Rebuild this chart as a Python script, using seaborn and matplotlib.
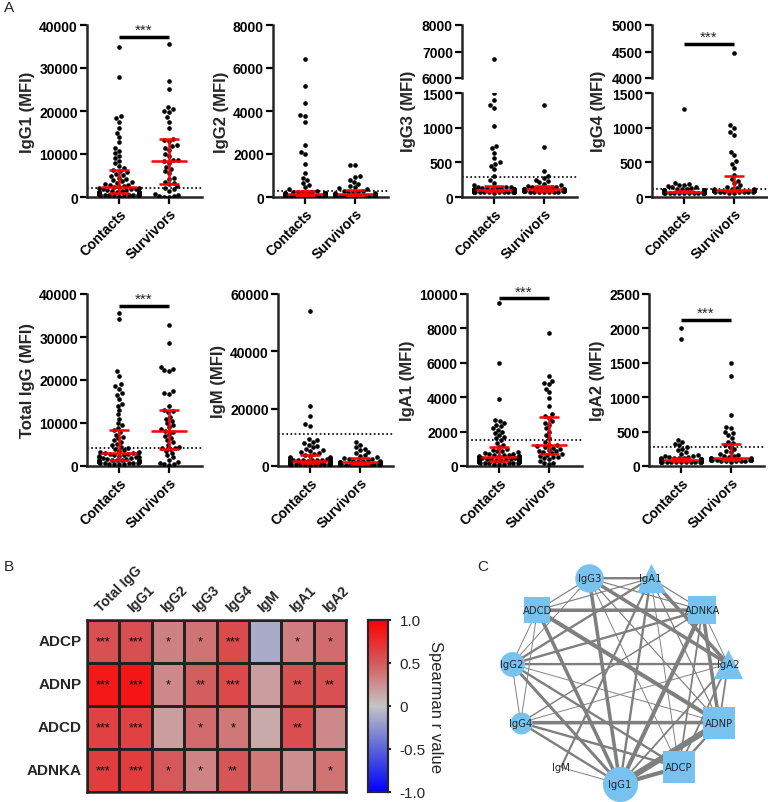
import warnings

import matplotlib
matplotlib.use("Agg")
import matplotlib.pyplot as plt
import numpy as np
import pandas as pd
import seaborn as sns
from matplotlib.colors import LinearSegmentedColormap

warnings.filterwarnings("ignore")

# ---------------- data ----------------
groups = ["Contacts", "Survivors"]

igg1_contacts = [35000, 28000, 18800, 18400, 17500, 16000, 15000, 14000, 12800, 11500, 10800, 10200,
                 9600, 9000, 8400, 7800, 7200, 6700, 6200, 6000, 5700, 5400, 5100, 4800, 4500, 4200,
                 3900, 3700, 3500, 3300, 3100, 2900, 2700, 2550, 2400, 2300, 2150, 2050, 1950, 1850,
                 1750, 1650, 1550, 1450, 1350, 1250, 1200, 1150, 1100, 1050, 1000, 950, 900, 850,
                 780, 750, 720, 700, 680, 650, 620, 600, 580, 550, 520, 500, 480, 450, 420, 400, 350, 300]
igg1_survivors = [35500, 27000, 25200, 21000, 20500, 20000, 19800, 18500, 17500, 16000, 13600, 13300,
                  13000, 12000, 11800, 11500, 11000, 10000, 9500, 8500, 8500, 8300, 8000, 7000, 6500,
                  6000, 5500, 4500, 4200, 3500, 3300, 3000, 2500, 2000, 1800, 1500, 800, 500, 300, 200,
                  100, 50]

igg2_contacts = [6400, 5150, 4350, 3800, 3750, 3500, 2400, 2100, 2000, 1550, 1100, 900, 800, 650, 550,
                 450, 380, 300, 250, 240, 230, 220, 210, 200, 190, 180, 170, 165, 160, 150, 145, 140,
                 135, 130, 125, 120, 115, 110, 105, 100, 98, 95, 92, 90, 88, 85, 82, 80, 78, 75, 72,
                 70, 68, 65, 62, 60, 58, 55, 52, 50, 48, 45, 42, 40, 38, 35, 32, 30, 28, 25, 22, 20]
igg2_survivors = [1500, 1480, 1000, 950, 800, 700, 600, 520, 450, 400, 350, 300, 280, 250, 230, 210,
                  190, 175, 160, 150, 140, 130, 120, 110, 100, 95, 90, 85, 80, 75, 70, 65, 60, 55, 50,
                  45, 40, 35, 30, 25, 20, 15]

igg3_contacts = [6700, 1500, 1400, 1320, 1290, 1030, 740, 700, 640, 560, 500, 470, 450, 400, 300, 240,
                 200, 170, 150, 145, 140, 136, 132, 128, 125, 122, 120, 118, 116, 114, 112, 110, 108,
                 106, 104, 102, 100, 98, 97, 96, 95, 94, 93, 92, 91, 90, 89, 88, 87, 86, 85, 84, 83,
                 82, 81, 80, 79, 78, 77, 76, 75, 74, 73, 72, 71, 70, 69, 68, 67, 66, 65, 62]
igg3_survivors = [1330, 720, 380, 300, 270, 250, 230, 210, 190, 175, 160, 150, 145, 140, 135, 130, 125,
                  120, 116, 113, 110, 108, 105, 102, 100, 98, 96, 94, 92, 90, 88, 86, 84, 82, 80, 78,
                  76, 74, 72, 70, 68, 65]

igg4_contacts = [1270, 200, 190, 180, 170, 160, 150, 140, 130, 120, 115, 110, 105, 100, 98, 96, 95, 94,
                 93, 92, 91, 90, 89, 88, 87, 86, 85, 84, 83, 82, 81, 80, 80, 79, 79, 78, 78, 77, 77,
                 76, 76, 75, 75, 74, 74, 73, 73, 72, 72, 71, 71, 70, 70, 69, 69, 68, 68, 67, 66, 65,
                 64, 63, 62, 61, 60, 59, 58, 57, 56, 55, 54, 52]
igg4_survivors = [4480, 1040, 1000, 940, 900, 650, 600, 520, 480, 420, 320, 260, 230, 200, 170, 150,
                  130, 120, 115, 110, 105, 102, 100, 98, 96, 94, 92, 90, 88, 86, 84, 82, 80, 78, 76,
                  74, 72, 70, 68, 66, 64, 62]

totaligg_contacts = [35500, 34200, 22000, 21000, 19000, 18500, 18000, 17000, 16500, 15500, 14500, 14000,
                     13000, 12000, 11000, 10000, 9500, 8800, 8300, 7800, 7300, 6800, 6400, 6000, 5600,
                     5200, 4800, 4500, 4200, 3900, 3700, 3500, 3300, 3200, 3100, 3050, 3000, 2900, 2750,
                     2600, 2500, 2400, 2300, 2200, 2100, 2000, 1900, 1800, 1700, 1600, 1500, 1450, 1400,
                     1350, 1300, 1250, 1200, 1150, 1100, 1000, 950, 900, 850, 800, 750, 700, 650, 600,
                     550, 500, 450, 400]
totaligg_survivors = [32800, 28600, 23000, 22500, 22300, 22000, 17500, 17000, 16800, 14000, 13000, 12800,
                      12500, 11500, 11000, 10500, 10000, 9500, 9000, 8500, 8200, 8000, 7500, 7000, 6500,
                      6000, 5500, 5000, 4500, 4200, 4100, 4000, 3500, 3000, 2500, 2000, 1500, 1000, 800,
                      500, 400, 300]

igm_contacts = [54000, 21000, 17500, 14500, 14000, 9500, 9000, 8500, 8000, 7500, 7000, 6500, 6000, 5500,
                5200, 4800, 4500, 4200, 3900, 3600, 3300, 3100, 2900, 2800, 2700, 2600, 2500, 2400,
                2300, 2200, 2150, 2100, 2050, 2000, 1950, 1900, 1850, 1800, 1700, 1600, 1500, 1450,
                1400, 1350, 1300, 1250, 1200, 1150, 1100, 1050, 1000, 950, 900, 880, 860, 840, 820,
                800, 780, 760, 740, 720, 700, 680, 660, 640, 620, 600, 580, 560, 540, 500]
igm_survivors = [8500, 7500, 6500, 6000, 5500, 5000, 4500, 4000, 3500, 3000, 2800, 2500, 2300, 2100,
                 1900, 1800, 1700, 1600, 1550, 1500, 1450, 1400, 1350, 1300, 1200, 1100, 1000, 950, 900,
                 850, 800, 750, 700, 650, 600, 550, 500, 450, 400, 350, 300, 250]

iga1_contacts = [9450, 6000, 3900, 2700, 2600, 2500, 2400, 2300, 2200, 2100, 2000, 1900, 1800, 1700,
                 1600, 1500, 1350, 1200, 1100, 1000, 950, 900, 850, 800, 750, 700, 680, 660, 640, 620,
                 600, 580, 570, 560, 550, 540, 530, 520, 500, 480, 460, 440, 420, 400, 390, 380, 370,
                 360, 350, 340, 330, 320, 310, 300, 290, 280, 270, 260, 250, 240, 230, 220, 210, 200,
                 190, 180, 170, 160, 150, 140, 130, 120]
iga1_survivors = [7750, 5250, 4950, 4800, 4750, 4500, 4300, 3950, 3500, 3000, 2900, 2800, 2600, 2500,
                  2400, 2200, 2000, 1800, 1600, 1400, 1250, 1200, 1150, 1100, 1050, 1000, 950, 900, 850,
                  800, 750, 700, 650, 600, 550, 500, 450, 400, 300, 200, 150, 100]

iga2_contacts = [2000, 1850, 380, 350, 320, 300, 280, 250, 230, 200, 180, 165, 150, 140, 130, 125, 120,
                 115, 112, 110, 108, 106, 104, 102, 100, 99, 98, 97, 96, 95, 94, 93, 92, 91, 90, 89, 88,
                 87, 86, 85, 84, 83, 82, 81, 80, 79, 78, 77, 76, 75, 74, 73, 72, 71, 70, 69, 68, 67,
                 66, 65, 64, 63, 62, 61, 60, 59, 58, 57, 56, 55, 54, 52]
iga2_survivors = [1500, 1310, 740, 570, 550, 500, 480, 450, 400, 350, 330, 300, 280, 250, 220, 200, 180,
                  160, 150, 140, 125, 120, 115, 110, 105, 100, 98, 96, 94, 92, 90, 88, 86, 84, 82, 80,
                  78, 76, 74, 72, 70, 65]

# heatmap (Spearman r) and significance
heat_cols = ["Total IgG", "IgG1", "IgG2", "IgG3", "IgG4", "IgM", "IgA1", "IgA2"]
heat_rows = ["ADCP", "ADNP", "ADCD", "ADNKA"]
adcp_r = [0.55, 0.56, 0.32, 0.38, 0.58, -0.13, 0.33, 0.42]
adnp_r = [0.86, 0.88, 0.28, 0.48, 0.60, 0.18, 0.55, 0.55]
adcd_r = [0.64, 0.64, 0.18, 0.42, 0.36, 0.12, 0.56, 0.28]
adnka_r = [0.66, 0.66, 0.50, 0.30, 0.52, 0.36, 0.25, 0.38]
adcp_sig = ["***", "***", "*", "*", "***", "", "*", "*"]
adnp_sig = ["***", "***", "*", "**", "***", "", "**", "**"]
adcd_sig = ["***", "***", "", "*", "*", "", "**", ""]
adnka_sig = ["***", "***", "*", "*", "**", "", "", "*"]

# network
net_nodes = ["IgG3", "IgA1", "ADNKA", "IgA2", "ADNP", "ADCP", "IgG1", "IgM", "IgG4", "IgG2", "ADCD"]
net_shapes = ["o", "^", "s", "^", "s", "s", "o", "", "o", "o", "s"]
net_sizes = [420, 440, 420, 440, 500, 540, 640, 0, 250, 320, 330]
edge_src = ["IgG3", "ADCD", "IgG2", "IgG4", "IgG1", "IgG1", "ADCD", "ADCD", "IgG3", "IgG3", "IgA1",
            "ADNKA", "ADNKA", "IgG2", "IgG4", "IgG4", "IgM", "IgM", "IgG2", "IgG1", "IgG1", "ADCP",
            "ADCP", "ADCP", "IgG2", "IgG2", "IgG4", "IgG4", "IgG2", "IgG2", "IgG4", "IgG3", "IgG3",
            "IgG3", "ADCD", "IgA1", "ADNKA", "IgA2", "IgG2", "IgG4", "ADCD", "IgA1", "ADNKA"]
edge_dst = ["IgA1", "ADNKA", "IgA2", "ADNP", "ADNP", "ADCP", "ADNP", "IgG1", "IgG1", "IgA2", "IgA2",
            "IgG1", "ADNP", "IgG1", "IgG1", "ADCP", "IgA1", "IgG1", "ADCP", "IgA1", "IgA2", "ADNP",
            "ADNKA", "IgA2", "ADNKA", "IgA1", "ADNKA", "IgA2", "IgG3", "ADCD", "ADCD", "ADNKA", "ADCP",
            "ADNP", "IgA1", "ADNP", "IgA2", "ADNP", "ADNP", "IgG2", "IgG3", "ADCP", "IgA1"]
edge_w = [2.0, 3.0, 2.0, 3.0, 5.0, 3.5, 3.5, 3.0, 3.0, 3.0, 3.0,
          3.5, 3.0, 2.5, 2.0, 2.0, 1.8, 0.8, 2.0, 2.0, 1.5, 2.0,
          1.5, 1.5, 2.0, 2.0, 1.2, 0.8, 0.8, 0.8, 0.8, 1.0, 0.8,
          1.0, 1.0, 1.0, 0.8, 1.5, 0.8, 0.8, 1.0, 0.8, 1.0]

# ---------------- figure ----------------
sns.set_style("ticks")
plt.rcParams["font.family"] = ["Liberation Sans", "DejaVu Sans"]

W, H = 768, 803
fig = plt.figure(figsize=(W / 100, H / 100), dpi=100)


def px_axes(left, top, width, height):
    return fig.add_axes([left / W, 1 - (top + height) / H, width / W, height / H])


def style_axis(ax, yticks):
    ax.set_yticks(yticks)
    ax.set_yticklabels([str(t) for t in yticks], fontweight="bold", fontsize=10)
    for s in ["top", "right"]:
        ax.spines[s].set_visible(False)
    for s in ["left", "bottom"]:
        ax.spines[s].set_linewidth(1.8)
    ax.tick_params(width=1.6, length=5, pad=1.5, colors="black")
    ax.set_xlabel("")
    ax.set_ylabel("")


def draw_stats(ax, series):
    for i, vals in enumerate(series):
        q1, med, q3 = np.percentile(vals, [25, 50, 75])
        kw = dict(color="#FF0000", lw=1.8, zorder=5)
        ax.hlines(med, i - 0.36, i + 0.36, **kw)
        ax.vlines(i, q1, q3, **kw)
        ax.hlines([q1, q3], i - 0.2, i + 0.2, **kw)


def swarm(ax, df):
    sns.swarmplot(data=df, x="group", y="value", order=groups, color="black", size=3.3,
                  linewidth=0, ax=ax)


def sig_bar(ax, y):
    ax.plot([0, 1], [y, y], color="black", lw=2.5, clip_on=False, solid_capstyle="butt")
    ax.text(0.5, y, "***", ha="center", va="bottom", fontsize=11, clip_on=False)


def swarm_panel(left, top, contacts, survivors, ylabel, ymax, yticks, cutoff,
                sig=None, upper=None):
    df = pd.DataFrame({
        "group": ["Contacts"] * len(contacts) + ["Survivors"] * len(survivors),
        "value": contacts + survivors,
    })
    xlim = (-0.64, 1.66)
    if upper is None:
        ax = px_axes(left, top, 115, 172)
    else:
        ax = px_axes(left, top + 68, 115, 104)
    swarm(ax, df)
    draw_stats(ax, [contacts, survivors])
    ax.axhline(cutoff, ls=(0, (1, 1.5)), color="black", lw=1.2, zorder=1)
    ax.set_xlim(*xlim)
    ax.set_ylim(0, ymax)
    style_axis(ax, yticks)
    ax.set_xticks([0, 1])
    ax.set_xticklabels(groups, rotation=45, ha="right", rotation_mode="anchor",
                       fontweight="bold", fontsize=10)
    ax.set_ylabel(ylabel, fontweight="bold", fontsize=12, labelpad=3)
    if upper is None:
        if sig is not None:
            sig_bar(ax, sig)
    else:
        umin, umax, uticks = upper
        axu = px_axes(left, top, 115, 53)
        swarm(axu, df)
        axu.set_xlim(*xlim)
        axu.set_ylim(umin, umax)
        style_axis(axu, uticks)
        axu.spines["bottom"].set_visible(False)
        axu.set_xticks([])
        ax.yaxis.set_label_coords(-0.40, 0.83)
        if sig is not None:
            sig_bar(axu, sig)
    return ax


swarm_panel(87, 26, igg1_contacts, igg1_survivors, "IgG1 (MFI)", 40000,
            [0, 10000, 20000, 30000, 40000], 2100, sig=37200)
swarm_panel(273, 26, igg2_contacts, igg2_survivors, "IgG2 (MFI)", 8000,
            [0, 2000, 4000, 6000, 8000], 300)
swarm_panel(462, 26, igg3_contacts, igg3_survivors, "IgG3 (MFI)", 1500,
            [0, 500, 1000, 1500], 290, upper=(6000, 8000, [6000, 7000, 8000]))
swarm_panel(652, 26, igg4_contacts, igg4_survivors, "IgG4 (MFI)", 1500,
            [0, 500, 1000, 1500], 110, sig=4640, upper=(4000, 5000, [4000, 4500, 5000]))

swarm_panel(87, 295, totaligg_contacts, totaligg_survivors, "Total IgG (MFI)", 40000,
            [0, 10000, 20000, 30000, 40000], 4200, sig=37200)
swarm_panel(278, 295, igm_contacts, igm_survivors, "IgM (MFI)", 60000,
            [0, 20000, 40000, 60000], 11000)
swarm_panel(467, 295, iga1_contacts, iga1_survivors, "IgA1 (MFI)", 10000,
            [0, 2000, 4000, 6000, 8000, 10000], 1500, sig=9750)
swarm_panel(649, 295, iga2_contacts, iga2_survivors, "IgA2 (MFI)", 2500,
            [0, 500, 1000, 1500, 2000, 2500], 270, sig=2120)

# ---------------- B: heatmap ----------------
corr = pd.DataFrame([adcp_r, adnp_r, adcd_r, adnka_r], index=heat_rows, columns=heat_cols)
stars = np.array([adcp_sig, adnp_sig, adcd_sig, adnka_sig])
cmap = LinearSegmentedColormap.from_list(
    "bgr",
    [(0.0, "#0000FF"), (0.25, "#5A64D8"), (0.5, "#C4C4C4"), (0.75, "#D45A5C"), (1.0, "#FF0000")],
)

ax_h = px_axes(87, 621, 259, 172)
ax_cb = px_axes(368, 621, 20, 172)
sns.heatmap(corr, ax=ax_h, cbar_ax=ax_cb, cmap=cmap, vmin=-1, vmax=1,
            annot=stars, fmt="", annot_kws=dict(fontsize=9, color="black"),
            linewidths=0.9, linecolor="#222222")
for s in ax_h.spines.values():
    s.set_visible(True)
    s.set_linewidth(1.8)
    s.set_color("#222222")
ax_h.xaxis.tick_top()
ax_h.set_xticklabels(heat_cols, rotation=45, ha="left", rotation_mode="anchor",
                     fontweight="bold", fontsize=10)
ax_h.set_yticklabels(heat_rows, rotation=0, fontweight="bold", fontsize=11)
ax_h.tick_params(length=0, pad=4)
ax_h.set_xlabel("")
ax_h.set_ylabel("")

ax_cb.set_yticks([-1, -0.5, 0, 0.5, 1])
ax_cb.set_yticklabels(["-1.0", "-0.5", "0", "0.5", "1.0"], fontsize=11)
ax_cb.tick_params(direction="inout", length=5, width=1.5, pad=6)
for s in ax_cb.spines.values():
    s.set_visible(True)
    s.set_linewidth(1.5)
ax_cb.set_ylabel("Spearman r value", rotation=270, fontsize=12, labelpad=12)

# ---------------- C: network ----------------
ax_n = px_axes(490, 555, 278, 248)
ax_n.set_xlim(-1.238, 1.41)
ax_n.set_ylim(-1.171, 1.19)
ax_n.axis("off")
angles = np.deg2rad(106.4 - np.arange(len(net_nodes)) * 360 / len(net_nodes))
pos = {n: (1.04 * np.cos(a), np.sin(a)) for n, a in zip(net_nodes, angles)}
for a, b, w in zip(edge_src, edge_dst, edge_w):
    ax_n.plot([pos[a][0], pos[b][0]], [pos[a][1], pos[b][1]], color="#7f7f7f", lw=0.85 * w,
              zorder=1, solid_capstyle="butt")
for n, m, s in zip(net_nodes, net_shapes, net_sizes):
    if m:
        ax_n.scatter(*pos[n], marker=m, s=s, color="#78C2EF", linewidths=0, zorder=2)
    ax_n.text(*pos[n], n, ha="center", va="center", fontsize=7.2,
              family="DejaVu Sans", zorder=3)

# panel letters
fig.text(4 / W, 1 - 8 / H, "A", fontsize=11, ha="left", va="center")
fig.text(4 / W, 1 - 567 / H, "B", fontsize=11, ha="left", va="center")
fig.text(477 / W, 1 - 567 / H, "C", fontsize=11, ha="left", va="center")

fig.savefig("out.png", dpi=100)
